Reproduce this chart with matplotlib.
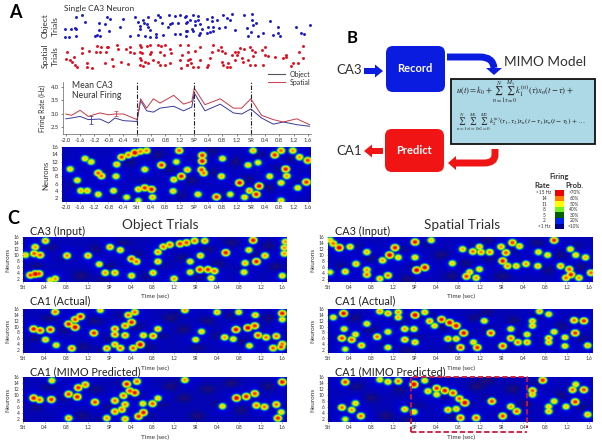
import numpy as np
import matplotlib
matplotlib.use('Agg')
import matplotlib.pyplot as plt
from matplotlib.colors import LinearSegmentedColormap
from matplotlib.patches import FancyBboxPatch, FancyArrow, PathPatch, Polygon, Rectangle
from matplotlib.path import Path

plt.rcParams['font.family'] = ['Lato', 'DejaVu Sans']
plt.rcParams['mathtext.fontset'] = 'stix'

W, H = 602, 445

# raster plots: (time in sec from Stt, trial)
object_spikes = [
    (-2.02,9),(-2.02,1),(-1.9,1),(-1.84,9),(-1.74,10),(-1.7,9),(-1.71,2),(-1.72,21),(-1.55,23),(-1.46,16),
    (-1.18,2),(-1.11,3),(-1.04,2),(-1.06,15),(-1.07,8),(-.85,21),(-.76,19),(-.9,14),(-.79,7),(-.46,11),
    (-.38,19),(-.2,2),(-.06,21),(.04,16),(.16,18),(.2,15),(.32,21),(.08,12),(.29,14),(.08,9),(.32,11),
    (.37,8),(.04,3),(.23,2),(.38,1),(.55,4),(.55,1),(.6,23),(.65,21),(.5,18),(.72,15),(.74,3),(.91,23),
    (1.07,22),(.93,14),(.88,11),(1.0,15),(1.16,15),(1.21,23),(1.35,21),(1.07,4),(1.21,4),(1.41,16),(1.4,7),
    (1.38,22),(1.58,23),(1.49,18),(1.39,15),(1.72,22),(1.63,17),(1.72,18),(1.77,14),(1.63,13),(1.55,9),
    (1.39,7),(1.39,2),(1.58,7),(1.77,5),(1.74,3),(1.82,9),(1.96,19),(2.1,21),(2.1,17),(2.0,11),(2.14,11),
    (2.05,6),(1.96,5),(2.14,7),(2.24,18),(2.31,10),(2.42,23),(2.47,11),(2.52,20),(2.66,24),(2.61,18),
    (2.75,8),(3.01,23),(3.13,2),(3.08,10),(3.22,24),(3.22,18),(3.36,15),(3.27,13),(3.2,6),(3.55,5),(3.41,2),
    (3.74,17),(3.83,3),(3.95,5),(4.02,2),(3.97,11),(4.48,11),(4.62,5),(4.69,4),(4.86,13),
]
spatial_spikes = [
    (-1.96,19),(-1.98,12),(-1.88,11),(-1.77,14),(-1.81,9),(-1.74,6),(-1.69,4),(-1.53,23),(-1.53,18),(-1.41,8),
    (-1.4,4),(-1.27,3),(-1.34,20),(-1.13,25),(-1.15,19),(-1.02,19),(-1,24),(-.85,24),(-.81,24),(-.87,19),
    (-.9,8),(-.71,12),(-.66,5),(-.55,26),(-.52,22),(-.45,9),(-.29,22),(-.18,24),(-.2,19),(-.08,18),(-.24,7),
    (.08,26),(.13,24),(.08,19),(.15,18),(.08,13),(.13,11),(.22,9),(.08,6),(.18,5),(.32,8),(.29,25),(.38,26),
    (.41,19),(.38,17),(.46,11),(.6,26),(.69,25),(.79,26),(.65,19),(.76,16),(.93,22),(.97,18),(.6,9),(.65,6),
    (.93,8),(.79,6),(1.21,26),(1.28,16),(1.44,19),(1.21,11),(1.44,11),(1.4,6),(1.25,3),
    (1.44,26),(1.63,20),(1.77,24),(1.49,12),(1.42,6),(1.53,8),(1.58,4),(1.72,4),(1.77,11),(2.05,13),(2,6),
    (1.96,4),(2.14,26),(2.1,19),(2.27,21),(2.36,24),(2.4,20),(2.47,18),(2.38,9),(2.42,6),(2.52,4),(2.57,8),
    (2.61,4),(2.66,16),(2.75,19),(2.8,16),(2.89,23),(2.85,19),(3.01,22),(2.94,13),(2.99,9),(3.13,11),(2.75,11),
    (3.17,24),(3.22,21),(3.31,19),(3.27,15),(3.17,6),(3.31,6),(3.55,6),(3.52,21),(3.59,16),(3.59,24),(3.69,15),
    (3.88,14),(4.11,13),(4.2,16),(4.2,14),(4.34,5),(4.39,8),(4.53,8),(4.55,19),(4.67,13),(4.67,25),(4.95,6),
]

# mean firing rate
rate_times = [-2.0,-1.84,-1.6,-1.37,-1.04,-.8,-.62,-.38,0,.1,.27,.46,.65,1.03,1.31,1.54,1.61,1.91,2.34,2.71,2.94,3.2,3.5,3.83,4.11,4.49,4.85]
rate_object = [2.81,2.84,2.9,2.78,2.8,2.65,2.84,2.74,2.71,3.49,3.11,3.06,3.21,3.28,3.11,3.25,3.78,3.11,3.36,3.03,2.99,3.18,2.84,2.61,2.69,2.59,2.53]
rate_spatial = [2.99,2.94,3.13,2.9,3.03,2.96,2.99,2.99,2.78,3.56,3.21,3.56,3.4,3.69,3.36,3.46,3.96,3.34,3.56,3.21,3.21,3.56,2.94,2.78,2.69,2.81,2.59]

ticks_long = ['-2.0','-1.6','-1.2','-0.8','-0.4','Stt','0.4','0.8','1.2','SP','0.4','0.8','1.2','SR','0.4','0.8','1.2','1.6']
ticks_short = ticks_long[5:]

# heatmap hot spots: (time, neuron, level)
single_heat = [
    (-1.88,10,.5),(-1.68,6.9,.5),(-1.58,4,.55),(-1.4,4,.55),(-1.46,12.9,.5),(-1.29,12,.5),(-1.09,8.9,.75),(-1.0,8.1,.7),
    (-1.09,3,.5),(-.66,4,.5),(-.59,8,.5),(-.57,11.3,.55),(-.43,13.3,.8),(-.24,13.9,.7),(-.06,14.5,1),(.27,15.1,.65),(.1,14.9,.7),
    (-.29,2.2,.45),(.22,9.9,.5),(.04,1.3,.4),(.04,4.4,.55),(.22,4.8,.85),(.41,4.4,.9),(.44,2.2,.55),(.69,11.1,.85),
    (1.02,3.9,.5),(1.04,7.1,.55),(1.25,8,.9),(1.42,9.8,.55),(1.11,12,.45),(1.19,15.1,.75),(1.72,3,.5),(1.84,13.8,.85),
    (1.84,12.2,.95),(1.82,9.8,.8),(1.88,8.9,.7),(2.24,2.3,.85),(2.38,8,.55),(2.41,12.9,.5),(2.63,3,.45),(2.89,6.2,.95),
    (3.13,11.1,.5),(3.41,11.8,.45),(3.44,5.3,.95),(3.36,3,.9),(3.17,4,.6),(3.03,2.2,.5),(3.74,8,.5),(4.06,6.2,.5),
    (4.19,10,.9),(4.22,8.1,.6),(3.27,15.1,.55),(3.88,13.9,.85),(4.06,15.1,.7),(4.39,15.1,.6),(4.58,13.3,.6),(4.81,12.4,.8),
    (4.53,4.8,.5),(4.77,6.4,.85),(4.06,1.3,.5),
]
object_ca3 = [
    (.13,3.2,.8),(.22,3.6,1),(.29,3.7,.8),(.59,2,.6),(.5,1.5,.5),(.22,12.7,.6),(.2,10.5,.75),(.31,10,.75),(.04,10,.5),
    (.41,14.8,.6),(.81,9.8,.65),(1.2,9.8,.6),(1.41,6.9,.5),(1.52,4,.6),(1.7,4,.6),(1.61,12.7,.6),(1.8,11.7,.55),(2.01,8.7,.8),
    (2.1,7.8,.7),(2.01,3,.55),(2.41,4,.55),(2.5,7.8,.55),(2.5,11,.6),(2.6,12.8,.7),(2.72,13.5,.7),(2.91,13.8,.85),(3.03,14.2,.8),
    (3.18,14.8,.7),(3.37,14.8,.6),(2.8,2,.6),(3.1,7.8,.5),(3.29,9.8,.55),(3.1,4.2,.5),(3.28,5.1,.85),(3.43,5.1,.85),(3.55,4.6,.7),
    (3.49,2.2,.55),(3.76,10.8,.9),(4.12,7.3,.55),(4.33,7.8,.9),(4.49,9.8,.6),(4.1,4.2,.5),(4.19,11.7,.5),(4.27,15,.9),
    (4.85,12.5,.6),(4.85,10.5,.6),(4.87,14.5,.6),(4.81,3,.5),
]
object_ca1 = [
    (.59,15.1,.7),(1.06,13.5,.9),(.96,12.5,.8),(1.43,15.7,.5),(2.07,15,.7),(1.95,14,.7),(2.01,11.5,.9),(1.89,10.3,.7),(2.5,9.2,.55),
    (3,15.7,.6),(3.6,15,.55),(4,15,.5),(4.31,14,.55),(4.81,14.6,.9),(4.81,12.5,.5),(.84,10.9,.9),(.96,9.8,1),(.19,9.2,.9),(.31,8.7,.8),
    (.5,9,.85),(.41,5.5,.55),(.61,3.6,.5),(.9,2.5,.7),(1.31,7.8,.85),(1.7,9.2,.7),(1.9,10.3,.6),(1.7,7.3,.7),(1.89,7,.65),(1.7,3.8,.6),
    (1.55,2.5,.65),(1.8,2.6,.7),(2.04,2.6,.75),(2.17,3.8,1),(2.23,7,.55),(2.41,6.8,.7),(3.31,8.3,.5),(3.2,5.5,.5),(3.74,6.3,.6),
    (3.9,5.7,.5),(3.95,9,.95),(4.17,9.6,1),(4.3,10.3,.85),(4.36,7,.8),(4.51,6.3,.7),(4.7,6.7,.7),(4.2,3.4,.5),(4.64,2.6,.75),(4.81,4,.7),(4.79,3,.8),
]
object_pred = [
    (.19,9,.9),(.3,8.4,.7),(.52,8.5,.85),(.53,14.9,.5),(.84,10.3,.8),(1,9.4,.9),(1.02,12.5,.85),(1.15,13.5,.7),(1.33,7.6,.8),(1.7,8.1,.7),
    (1.86,9.8,.7),(1.98,11.4,.8),(1.92,13.7,.9),(2.11,14.6,.7),(2.07,10.8,.9),(1.89,6.8,.65),(1.7,4.4,.7),(1.83,5.1,.7),(1.55,2.2,.6),
    (1.89,1.9,.6),(2.14,2.8,.85),(2.23,4.1,.9),(2.22,7.1,.5),(2.4,7.1,.75),(2.5,8.9,.5),(3,15.1,.6),(3.7,6.2,.5),(3.96,9,1),(4.14,9.5,.9),
    (4.3,10.5,.8),(4.33,6.5,.7),(4.48,6,.7),(4.7,6.8,.7),(4.81,14.4,.9),(4.79,4.2,.5),(4.73,2.2,.85),(.84,2.2,.6),
]
spatial_ca3 = [
    (.2,12.5,1),(.09,13.9,.7),(.4,12.8,.55),(.03,15,.5),(.51,7,.55),(.31,4.4,.55),(.03,4.2,.4),(.71,5,.6),(.71,3.4,.7),(.71,11,.55),
    (1.1,3.1,.7),(.95,2,.55),(1.23,12.5,.9),(1.13,10,1),(1,8.2,.6),(1.29,9.2,.5),(1.6,14.4,.9),(1.6,9.2,.5),(1.9,15,.5),(1.63,4.9,1),
    (1.78,5.8,.95),(2.29,7.2,.5),(2.48,12,.55),(2.67,11.2,.7),(2.79,12.8,.55),(2.82,11,.65),(2.98,11,.65),(2.55,2.8,.8),(2.61,4.2,.55),
    (2.79,5.2,.5),(2.73,2.3,.6),(3.19,12.8,.6),(3.4,14.2,.8),(3.53,13,.55),(3.28,10.8,.75),(3.22,8,.9),(3.31,6.3,.65),(3.47,6.3,.55),
    (3.65,7,.6),(3.87,6.3,.55),(3.88,11,.5),(4.05,10,.5),(4.17,15,.85),(4.47,12,.5),(4.57,10,.5),(4.75,9.2,.55),(4.29,6.3,.6),(4.45,5.2,.75),
    (4.48,3.4,.9),(4.63,2.3,.6),(4.39,2.3,.7),(4.85,4,.7),
]
spatial_ca1 = [
    (.28,14.6,.95),(.09,13.2,.5),(.71,11,.5),(.95,15.3,.6),(1.1,14.6,.6),(1.29,15,.6),(1.29,13.2,.55),(1.6,14,1),(1.78,15,.55),(1.87,11.9,.6),
    (2.09,12.5,.9),(2.24,11.4,1),(2.36,10.3,.95),(2.88,12,.5),(3.77,11.9,.55),(3.77,10.3,.55),(3.9,15.3,.55),(4.07,14.3,.5),(4.54,12.2,.7),
    (4.72,12,.85),(1.96,10.3,.5),(.29,9.2,.5),(.25,6,.8),(.43,5.5,.75),(.5,7.3,.5),(.61,3.5,.6),(.31,2.2,.4),(.9,6.5,.7),(1.1,8.2,.5),(1.1,2.8,.5),
    (1.41,9.2,.6),(1.58,9.2,.55),(1.41,5.5,.6),(1.6,4.6,.55),(2.21,5.8,.6),(2.36,5.8,.55),(2.5,7.8,.95),(2.44,2.8,.8),(2.75,2.8,.85),(2.68,4.6,.5),
    (3,7.8,.8),(3.22,3.3,.8),(3.37,9.2,.5),(3.37,6,.7),(3.5,4.6,.7),(3.67,4.6,.6),(3.67,7.3,.5),(4.07,6,.6),(4.07,4.6,.55),(4.17,8.2,.5),
    (4.37,6.3,.5),(4.37,3.3,.5),(4.56,7.8,.85),(4.79,3.5,.55),
]
spatial_pred = [
    (.31,14.4,.8),(.25,5.8,.7),(.43,5,.6),(.5,7.2,.5),(.6,2.9,.7),(.31,1.8,.4),(.95,15.2,.5),(1.1,14.5,.55),(1.29,14.7,.7),(1.41,5.2,.55),
    (1.58,13.6,1),(1.78,14.9,.5),(1.58,4.3,.5),(1.84,11.3,.55),(2,12.3,.85),(2,10.2,.5),(2.15,11.5,.9),(2.3,10.7,.8),(2.42,8.8,.75),(2.52,7.4,1),
    (2.21,5,.6),(2.36,5.3,.55),(2.44,2.3,.75),(2.73,2.3,.75),(3.02,7.9,.8),(3.22,2.9,.8),(3.37,6.1,.6),(3.48,4.5,.75),(3.77,11.5,.75),(3.77,10.2,.55),
    (3.96,15,.85),(4.07,4.5,.55),(4.07,6.1,.5),(4.17,7.9,.5),(4.39,6.1,.5),(4.56,7.7,.85),(4.57,13.6,.5),(4.51,11.8,.7),(4.72,11.8,.8),(4.79,3.4,.55),
]
# darker patches in the blue background: (fraction of width, neuron)
dim_patches = [
    (.05,6),(.1,13),(.16,9),(.22,3),(.27,12),(.33,6),(.38,14),(.43,10),(.47,3),(.52,7),(.56,13),(.61,9),(.66,3),(.7,12),(.74,7),
    (.79,14),(.83,5),(.88,10),(.93,13),(.96,6),(.3,1.8),(.6,15),
]

legend_rate = ['>15 Hz','14','11','8','5','2','<1 Hz']
legend_prob = ['>70%','60%','50%','40%','30%','20%','<10%']
legend_colors = ['#f00000','#ff8000','#ffff00','#70f020','#006000','#0020f0','#000090']

heat_cmap = LinearSegmentedColormap.from_list('firing', [
    (0, '#2a0a70'), (.08, '#0a0a90'), (.18, '#0000d0'), (.27, '#0030ff'), (.33, '#00a0b0'),
    (.38, '#10c030'), (.47, '#90f020'), (.56, '#ffff00'), (.72, '#ff8c00'), (.92, '#e80000'), (1, '#e00000')])

fig = plt.figure(figsize=(W / 100, H / 100), dpi=100)

# overlay in image pixels for everything that is not a plot
ov = fig.add_axes([0, 0, 1, 1], zorder=10)
ov.set_xlim(0, W)
ov.set_ylim(H, 0)
ov.axis('off')
ov.patch.set_alpha(0)


def px_axes(left, top, right, bottom):
    return fig.add_axes([left / W, 1 - bottom / H, (right - left) / W, (bottom - top) / H])


def draw_heat(ax, spots, t0, t1, tick_pos, tick_labels, size, px_per_sec, px_per_neuron):
    # blob sizes are given in pixels so both heatmap scales look alike
    st = 3.3 / px_per_sec
    sn = 2.8 / px_per_neuron
    tt = np.linspace(t0, t1, 300)
    nn = np.linspace(1, 16, 70)
    grid_t, grid_n = np.meshgrid(tt, nn)
    field = np.full(grid_t.shape, .14)
    for fx, n in dim_patches:
        t = t0 + fx * (t1 - t0)
        field -= .11 * np.exp(-((grid_t - t) / (2.2 * st)) ** 2 - ((grid_n - n) / (1.6 * sn)) ** 2)
    glow = np.zeros(grid_t.shape)
    core = np.zeros(grid_t.shape)
    for t, n, level in spots:
        d2 = ((grid_t - t) / st) ** 2 + ((grid_n - n) / sn) ** 2
        core = np.maximum(core, (.33 + .67 * level) * np.exp(-d2 / 2))
        glow = np.maximum(glow, .08 * np.exp(-d2 / 9))
    field = np.maximum(field + glow, core)
    ax.imshow(field, origin='lower', aspect='auto', extent=[t0, t1, 1, 16], cmap=heat_cmap,
              vmin=0, vmax=1, interpolation='bilinear')
    ax.set_xticks(tick_pos)
    ax.set_xticklabels(tick_labels)
    ax.set_yticks(range(2, 17, 2))
    ax.tick_params(labelsize=size, length=1, width=.4, pad=1.5, colors='#303030')
    for s in ax.spines.values():
        s.set_visible(False)


long_pos = np.arange(len(ticks_long)) * .4 - 2.0
short_pos = np.arange(len(ticks_short)) * .4

# panel A rasters
ax = px_axes(62, 12, 311, 38)
ax.scatter(*zip(*object_spikes), s=4.5, color='#1a1ac8', linewidths=0)
ax.set_xlim(-2.1, 4.89)
ax.set_ylim(0, 26)
ax.axis('off')

ax = px_axes(62, 42, 311, 71)
ax.scatter(*zip(*spatial_spikes), s=4.5, color='#e01020', linewidths=0)
ax.set_xlim(-2.1, 4.89)
ax.set_ylim(0, 29)
ax.axis('off')

# panel A firing rate
ax = px_axes(63, 82, 311, 134)
ax.plot(rate_times, rate_object, color='#3a3a98', lw=.7)
ax.plot(rate_times, rate_spatial, color='#c83848', lw=.7)
ax.errorbar([-1.3], [2.75], yerr=[.15], color='#3a3a98', lw=.6, capsize=1.2, capthick=.5)
ax.errorbar([-.6], [3.0], yerr=[.1], color='#c83848', lw=.6, capsize=1.2, capthick=.5)
for t in (0, 1.6, 3.2):
    ax.axvline(t, color='#202020', lw=.8, ls=(0, (4, 1.5, 1, 1.5)))
ax.set_xlim(-2.08, 4.89)
ax.set_ylim(2.24, 4.19)
ax.set_xticks(long_pos)
ax.set_xticklabels(ticks_long)
ax.set_yticks([2.5, 3.0, 3.5, 4.0])
ax.set_yticklabels(['2.5', '3.0', '3.5', '4.0'])
ax.tick_params(labelsize=4.2, length=1.5, width=.4, pad=1.5, colors='#303030')
ax.spines[['top', 'right']].set_visible(False)
ax.spines[['left', 'bottom']].set_linewidth(.5)
ax.spines[['left', 'bottom']].set_color('#606060')
ax.patch.set_alpha(0)

ax = px_axes(62, 147, 311, 202)
draw_heat(ax, single_heat, -2.1, 4.89, long_pos, ticks_long, 4.2, 35.6, 3.7)

# panel C heatmaps
rows = [(237, 282), (309, 353), (377, 422)]
for (top, bottom), spots in zip(rows, [object_ca3, object_ca1, object_pred]):
    ax = px_axes(23, top, 287, bottom)
    draw_heat(ax, spots, 0, 4.89, short_pos, ticks_short, 3.4, 54, 3.0)
for (top, bottom), spots in zip(rows, [spatial_ca3, spatial_ca1, spatial_pred]):
    ax = px_axes(328, top, 593, bottom)
    draw_heat(ax, spots, 0, 4.88, short_pos, ticks_short, 3.4, 54, 3.0)

# panel letters and labels
ov.text(15, 13, 'A', fontsize=13, fontweight='bold', ha='center', va='center')
ov.text(352, 38, 'B', fontsize=12, fontweight='bold', ha='center', va='center')
ov.text(13, 218, 'C', fontsize=13, fontweight='bold', ha='center', va='center')
ov.text(64, 9, 'Single CA3 Neuron', fontsize=6, va='center', color='#303030')
for x, label, y in [(45, 'Object', 26), (55, 'Trials', 26), (45, 'Spatial', 56), (55, 'Trials', 56)]:
    ov.text(x, y, label, fontsize=6, rotation=90, ha='center', va='center', color='#303030')
ov.text(72, 85, 'Mean CA3', fontsize=6.2, va='center', color='#303030')
ov.text(72, 96, 'Neural Firing', fontsize=6.2, va='center', color='#303030')
ov.text(42, 108, 'Firing Rate (Hz)', fontsize=5, rotation=90, ha='center', va='center', color='#303030')
ov.text(46, 175, 'Neurons', fontsize=5.6, rotation=90, ha='center', va='center', color='#303030')
ov.plot([268, 285], [74, 74], color='#555560', lw=.8)
ov.plot([268, 285], [82, 82], color='#d04858', lw=.8)
ov.text(290, 74, 'Object', fontsize=5, va='center', color='#303030')
ov.text(290, 82, 'Spatial', fontsize=5, va='center', color='#303030')

ov.text(160, 225, 'Object Trials', fontsize=9.8, ha='center', va='center', color='#303030')
ov.text(462, 225, 'Spatial Trials', fontsize=9.8, ha='center', va='center', color='#303030')
for x0, x1, x2 in [(30, 155, 8), (335, 461, 313)]:
    ov.text(x0, 231, 'CA3 (Input)', fontsize=7.8, va='center', color='#202020')
    ov.text(x0, 301, 'CA1 (Actual)', fontsize=7.8, va='center', color='#202020')
    ov.text(x0, 372, 'CA1 (MIMO Predicted)', fontsize=7.8, va='center', color='#202020')
    for y in (296, 368, 437):
        ov.text(x1, y, 'Time (sec)', fontsize=4.6, ha='center', va='center', color='#303030')
    for y in (260, 331, 400):
        ov.text(x2, y, 'Neurons', fontsize=4.6, rotation=90, ha='center', va='center', color='#303030')

# dashed outline on the lower right panel
dash = dict(color='#d01838', lw=1.3, ls=(0, (3, 1.5)))
ov.plot([411, 411, 527, 527], [432, 377, 377, 428], **dash)
ov.plot([411, 527], [432, 432], **dash)

# panel B diagram
blue, red = '#0a1ce0', '#f01414'
ov.add_patch(FancyBboxPatch((390, 50), 51, 38, boxstyle='round,pad=4,rounding_size=7', fc=blue, ec='none'))
ov.add_patch(FancyBboxPatch((389, 133), 51, 35, boxstyle='round,pad=4,rounding_size=7', fc=red, ec='none'))
ov.text(415, 69, 'Record', color='white', fontsize=8, fontweight='bold', ha='center', va='center')
ov.text(414, 150, 'Predict', color='white', fontsize=8, fontweight='bold', ha='center', va='center')
ov.text(349, 70, 'CA3', fontsize=9.5, ha='center', va='center', color='#303030')
ov.text(349, 151, 'CA1', fontsize=9.5, ha='center', va='center', color='#303030')
ov.text(504, 62, 'MIMO Model', fontsize=9.8, va='center', color='#303030')
ov.add_patch(FancyArrow(364, 71, 19, 0, width=6, head_width=13, head_length=8, length_includes_head=True, fc=blue, ec='none'))
ov.add_patch(FancyArrow(383, 151, -19, 0, width=6, head_width=13, head_length=8, length_includes_head=True, fc=red, ec='none'))

bend = Path([(447, 57), (480, 57), (493, 57), (494, 68)], [Path.MOVETO, Path.LINETO, Path.CURVE3, Path.CURVE3])
ov.add_patch(PathPatch(bend, fc='none', ec=blue, lw=5, capstyle='butt'))
ov.add_patch(Polygon([(486, 68), (502, 68), (494, 75)], fc=blue, ec='none'))
bend = Path([(495, 149), (495, 155), (495, 163), (484, 163), (456, 163)],
            [Path.MOVETO, Path.LINETO, Path.CURVE3, Path.CURVE3, Path.LINETO])
ov.add_patch(PathPatch(bend, fc='none', ec=red, lw=5, capstyle='butt'))
ov.add_patch(Polygon([(456, 156), (456, 170), (448, 163)], fc=red, ec='none'))

ov.add_patch(Rectangle((451, 79), 144, 65, fc='#add8e6', ec='#101010', lw=1.3))
ov.text(456, 92, r'$u(t)=k_0+\sum_{n=1}^{N}\sum_{\tau=0}^{M_1}k_1^{(n)}(\tau)x_n(t-\tau)+$',
        fontsize=6.2, va='center', color='#202020')
ov.text(456, 123, r'$\sum_{n=1}^{N}\sum_{\tau_1=0}^{M_1}\sum_{\tau_2=0}^{M_2}k_2^{(n)}(\tau_1,\tau_2)x_n(t-\tau_1)x_n(t-\tau_2)+\ldots$',
        fontsize=5.2, va='center', color='#202020')

# firing legend
ov.text(559, 177, 'Firing', fontsize=5.5, fontweight='bold', ha='center', va='center', color='#303030')
ov.text(542, 185, 'Rate', fontsize=5.5, fontweight='bold', ha='center', va='center', color='#303030')
ov.text(574, 185, 'Prob.', fontsize=5.5, fontweight='bold', ha='center', va='center', color='#303030')
for i, (rate, prob, c) in enumerate(zip(legend_rate, legend_prob, legend_colors)):
    y = 190 + i * 5.6
    ov.add_patch(Rectangle((555, y), 9, 5.6, fc=c, ec='none'))
    ov.text(544, y + 2.8, rate, fontsize=3.4, ha='center', va='center', color='#303030')
    ov.text(574, y + 2.8, prob, fontsize=3.4, ha='center', va='center', color='#303030')

fig.savefig('out.png', dpi=100)
